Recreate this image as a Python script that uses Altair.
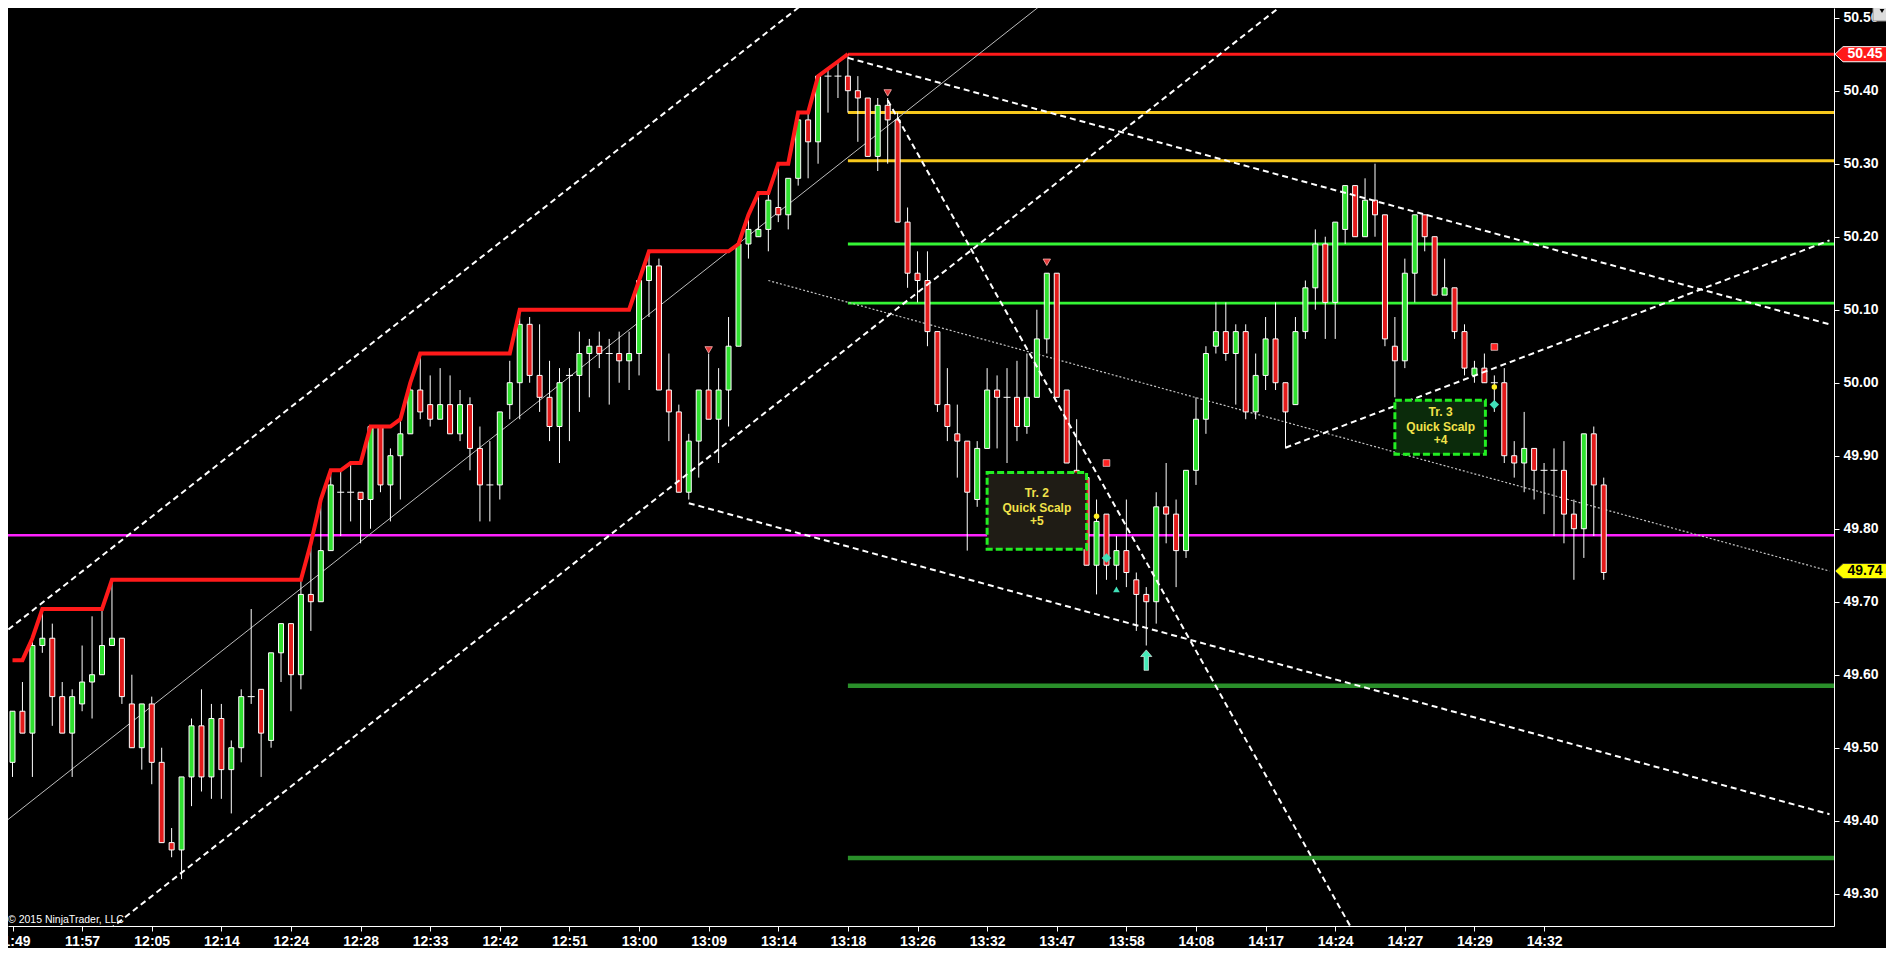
import altair as alt
import pandas as pd

# ---------------- data ----------------
time_labels = ['11:49', '11:57', '12:05', '12:14', '12:24', '12:28', '12:33', '12:42',
               '12:51', '13:00', '13:09', '13:14', '13:18', '13:26', '13:32', '13:47',
               '13:58', '14:08', '14:17', '14:24', '14:27', '14:29', '14:32']
label_step = 7
price_ticks = [49.3, 49.4, 49.5, 49.6, 49.7, 49.8, 49.9, 50.0, 50.1, 50.2, 50.3, 50.4, 50.5]

opens = [49.48, 49.55, 49.52, 49.64, 49.65, 49.57, 49.52, 49.56, 49.59, 49.60,
         49.64, 49.65, 49.56, 49.50, 49.56, 49.48, 49.37, 49.36, 49.46, 49.53,
         49.46, 49.54, 49.47, 49.50, 49.57, 49.58, 49.51, 49.63, 49.67, 49.60,
         49.71, 49.70, 49.77, 49.85, 49.85, 49.85, 49.84, 49.94, 49.86, 49.90,
         49.93, 49.99, 49.97, 49.95, 49.97, 49.93, 49.97, 49.91, 49.86, 49.86,
         49.97, 50.00, 50.08, 50.01, 49.98, 49.94, 50.01, 50.01, 50.04, 50.05,
         50.04, 50.04, 50.03, 50.04, 50.14, 50.16, 49.99, 49.96, 49.85, 49.92,
         49.99, 49.95, 49.99, 50.05, 50.19, 50.20, 50.21, 50.24, 50.23, 50.28,
         50.36, 50.33, 50.42, 50.42, 50.42, 50.40, 50.39, 50.31, 50.38, 50.36,
         50.22, 50.15, 50.14, 50.07, 49.97, 49.93, 49.92, 49.84, 49.91, 49.99,
         49.98, 49.98, 49.94, 49.98, 50.06, 50.15, 49.99, 49.88, 49.87, 49.75,
         49.82, 49.75, 49.77, 49.73, 49.71, 49.70, 49.83, 49.82, 49.77, 49.88,
         49.95, 50.05, 50.07, 50.04, 50.07, 49.96, 50.01, 50.06, 50.00, 49.97,
         50.07, 50.13, 50.19, 50.11, 50.21, 50.27, 50.20, 50.25, 50.23, 50.05,
         50.03, 50.15, 50.23, 50.20, 50.12, 50.13, 50.07, 50.01, 50.02, 50.00,
         50.00, 49.90, 49.89, 49.91, 49.88, 49.88, 49.88, 49.82, 49.80, 49.93,
         49.86]
highs = [49.55, 49.59, 49.65, 49.69, 49.67, 49.59, 49.58, 49.64, 49.68, 49.69,
         49.73, 49.65, 49.60, 49.56, 49.57, 49.50, 49.39, 49.46, 49.54, 49.58,
         49.56, 49.56, 49.51, 49.58, 49.69, 49.58, 49.63, 49.67, 49.67, 49.73,
         49.78, 49.84, 49.88, 49.88, 49.89, 49.85, 49.94, 49.94, 49.91, 49.95,
         50.00, 50.04, 50.01, 50.02, 50.01, 49.99, 49.98, 49.94, 49.92, 49.96,
         50.03, 50.10, 50.09, 50.08, 50.03, 50.02, 50.02, 50.07, 50.06, 50.07,
         50.06, 50.07, 50.07, 50.14, 50.18, 50.17, 50.04, 49.97, 49.93, 49.99,
         50.04, 50.02, 50.09, 50.19, 50.23, 50.26, 50.26, 50.30, 50.28, 50.37,
         50.37, 50.42, 50.43, 50.44, 50.45, 50.42, 50.39, 50.39, 50.39, 50.37,
         50.24, 50.18, 50.18, 50.07, 50.02, 49.97, 49.92, 49.92, 50.02, 50.01,
         50.02, 50.03, 50.04, 50.10, 50.15, 50.15, 49.99, 49.95, 49.87, 49.84,
         49.82, 49.79, 49.84, 49.74, 49.72, 49.85, 49.89, 49.84, 49.88, 49.98,
         50.05, 50.11, 50.11, 50.08, 50.08, 50.04, 50.09, 50.11, 50.00, 50.09,
         50.14, 50.21, 50.20, 50.22, 50.27, 50.27, 50.28, 50.30, 50.23, 50.09,
         50.17, 50.23, 50.23, 50.20, 50.17, 50.13, 50.08, 50.03, 50.04, 50.01,
         50.02, 49.92, 49.96, 49.91, 49.89, 49.91, 49.92, 49.84, 49.93, 49.94,
         49.87]
lows = [49.46, 49.52, 49.46, 49.63, 49.53, 49.52, 49.46, 49.55, 49.54, 49.60,
        49.64, 49.56, 49.50, 49.47, 49.45, 49.37, 49.35, 49.32, 49.42, 49.44,
        49.43, 49.43, 49.41, 49.48, 49.56, 49.46, 49.50, 49.59, 49.55, 49.58,
        49.66, 49.70, 49.77, 49.79, 49.81, 49.78, 49.80, 49.85, 49.81, 49.84,
        49.93, 49.95, 49.94, 49.95, 49.93, 49.92, 49.88, 49.81, 49.81, 49.84,
        49.95, 49.95, 50.00, 49.96, 49.92, 49.89, 49.92, 49.96, 49.98, 50.02,
        49.97, 50.00, 49.99, 50.01, 50.09, 49.99, 49.92, 49.85, 49.84, 49.87,
        49.95, 49.89, 49.94, 50.05, 50.17, 50.20, 50.18, 50.22, 50.21, 50.27,
        50.28, 50.30, 50.37, 50.39, 50.37, 50.33, 50.31, 50.29, 50.30, 50.22,
        50.13, 50.11, 50.05, 49.96, 49.92, 49.87, 49.77, 49.83, 49.91, 49.91,
        49.89, 49.92, 49.93, 49.98, 50.04, 49.98, 49.89, 49.87, 49.75, 49.71,
        49.73, 49.73, 49.72, 49.66, 49.64, 49.67, 49.78, 49.72, 49.76, 49.86,
        49.93, 50.04, 50.03, 49.97, 49.95, 49.95, 49.99, 49.99, 49.91, 49.97,
        50.06, 50.10, 50.06, 50.06, 50.19, 50.20, 50.20, 50.20, 50.05, 49.98,
        50.02, 50.11, 50.18, 50.12, 50.12, 50.06, 50.01, 50.00, 50.00, 49.96,
        49.89, 49.87, 49.85, 49.84, 49.82, 49.79, 49.78, 49.73, 49.76, 49.79,
        49.73]
closes = [49.55, 49.52, 49.64, 49.65, 49.57, 49.52, 49.57, 49.59, 49.60, 49.64,
          49.65, 49.57, 49.50, 49.56, 49.48, 49.37, 49.36, 49.46, 49.53, 49.46,
          49.54, 49.47, 49.50, 49.57, 49.57, 49.52, 49.63, 49.67, 49.60, 49.71,
          49.70, 49.77, 49.86, 49.85, 49.85, 49.84, 49.94, 49.86, 49.90, 49.93,
          49.99, 49.96, 49.95, 49.97, 49.93, 49.97, 49.91, 49.86, 49.86, 49.96,
          50.00, 50.08, 50.01, 49.98, 49.94, 50.00, 50.01, 50.04, 50.05, 50.04,
          50.04, 50.03, 50.04, 50.14, 50.16, 49.99, 49.96, 49.85, 49.92, 49.99,
          49.95, 49.99, 50.05, 50.19, 50.21, 50.21, 50.25, 50.23, 50.28, 50.36,
          50.33, 50.42, 50.42, 50.42, 50.40, 50.39, 50.31, 50.38, 50.36, 50.22,
          50.15, 50.14, 50.07, 49.97, 49.94, 49.92, 49.85, 49.91, 49.99, 49.98,
          49.98, 49.94, 49.98, 50.06, 50.15, 49.98, 49.89, 49.87, 49.75, 49.81,
          49.75, 49.77, 49.74, 49.71, 49.70, 49.83, 49.82, 49.77, 49.88, 49.95,
          50.04, 50.07, 50.04, 50.07, 49.96, 50.01, 50.06, 50.00, 49.96, 50.07,
          50.13, 50.19, 50.11, 50.22, 50.27, 50.20, 50.25, 50.23, 50.06, 50.03,
          50.15, 50.23, 50.20, 50.12, 50.13, 50.07, 50.02, 50.02, 50.00, 50.00,
          49.90, 49.89, 49.91, 49.88, 49.88, 49.88, 49.82, 49.80, 49.93, 49.86,
          49.74]

# trailing highest-high line (seeded with the high carried in from earlier bars)
step_seed = 49.62
step_last_bar = 84

# horizontal levels
level_prices = [50.45, 50.37, 50.304, 50.19, 50.109, 49.585, 49.349, 49.791]
level_from = [84, 84, 84, 84, 84, 84, 84, -2]

# drawn trend lines (bar index, price)
dashed_x1 = [-2, 5, 84, 88, 68, 128]
dashed_p1 = [49.645, 49.200, 50.445, 50.387, 49.835, 49.911]
dashed_x2 = [85, 135, 182.7, 140, 182.7, 182.7]
dashed_p2 = [50.578, 50.596, 50.080, 49.122, 49.409, 50.195]
mid_x = [-2, 110]
mid_p = [49.385, 50.588]
dotted_x = [76, 182.7]
dotted_p = [50.140, 49.742]

# signal markers
tri_down_x = [70, 88, 104]
tri_down_p = [50.045, 50.397, 50.165]
sq_x = [110, 149]
sq_p = [49.890, 50.049]
dot_x = [109, 149]
dot_p = [49.817, 49.994]
diam_x = [110, 149]
diam_p = [49.760, 49.970]
tri_up_x = [111]
tri_up_p = [49.717]
arrow_x = [114]
arrow_p = [49.620]

# trade boxes
box_x1 = [98, 139]
box_x2 = [108, 148.1]
box_p1 = [49.877, 49.976]
box_p2 = [49.772, 49.902]
box_text = [["Tr. 2", "Quick Scalp", "+5"], ["Tr. 3", "Quick Scalp", "+4"]]
box_text_x = [103, 143.6]
box_text_p = [[49.849, 49.829, 49.810], [49.960, 49.940, 49.921]]

tag_prices = [50.45, 49.742]
tag_texts = ["50.45", "49.74"]

# ---------------- styling / scales ----------------
UP = '#2fe02f'
DN = '#e31b1b'
XMIN, XMAX = 0.05, 182.65
YMIN, YMAX = 49.2558, 50.5133
W, H = 1826, 918
FONT = 'Liberation Sans'

xscale = alt.Scale(domain=[XMIN, XMAX], nice=False, zero=False)
yscale = alt.Scale(domain=[YMIN, YMAX], nice=False, zero=False)
label_expr = "[" + ",".join("'%s'" % t for t in time_labels) + "][round(datum.value/%d)]" % label_step
xaxis = alt.Axis(values=[k * label_step for k in range(len(time_labels))], labelExpr=label_expr,
                 tickSize=5, tickColor='white', domainColor='white', labelColor='white',
                 labelFont=FONT, labelFontSize=14, labelFontWeight='bold', labelPadding=3,
                 labelFlush=False, labelOverlap=False, grid=False, title=None, domainWidth=1)
yaxis = alt.Axis(orient='right', values=price_ticks, format='.2f',
                 tickSize=5, tickColor='white', domainColor='white', labelColor='white',
                 labelFont=FONT, labelFontSize=14, labelFontWeight='bold', labelPadding=4,
                 labelOverlap=False, labelFlush=False, grid=False, title=None, domainWidth=1)


def X(f):
    return alt.X(f, type='quantitative', scale=xscale, axis=xaxis, title=None)


def Y(f):
    return alt.Y(f, type='quantitative', scale=yscale, axis=yaxis, title=None)


# ---------------- frames ----------------
n = len(opens)
cd = pd.DataFrame({'i': list(range(n)), 'o': opens, 'h': highs, 'l': lows, 'c': closes})
cd['col'] = [UP if c > o else DN for o, c in zip(opens, closes)]
bodies = cd[cd.o != cd.c]
dojis = cd[cd.o == cd.c].copy()
dojis['x1'] = dojis.i - 0.35
dojis['x2'] = dojis.i + 0.35

step_vals = pd.Series([max(step_seed, h) for h in highs[:step_last_bar + 1]]).cummax()
step = pd.DataFrame({'i': list(range(step_last_bar + 1)), 'p': step_vals})

lv = pd.DataFrame({'x1': level_from, 'x2': [XMAX + 1] * len(level_prices), 'p': level_prices,
                   'col': ['#ff1a1a', '#f7c81c', '#f7c81c', '#35f535', '#35f535', '#2a8f2a', '#2a8f2a', '#ff22ff'],
                   'w': [3, 3, 3, 2.8, 2.8, 4.5, 4.5, 2.5]})

rows = []
for k in range(len(dashed_x1)):
    rows.append({'id': k, 'x': dashed_x1[k], 'p': dashed_p1[k]})
    rows.append({'id': k, 'x': dashed_x2[k], 'p': dashed_p2[k]})
dashed = pd.DataFrame(rows)
mid = pd.DataFrame({'x': mid_x, 'p': mid_p})
dotted = pd.DataFrame({'x': dotted_x, 'p': dotted_p})

boxes = pd.DataFrame({'x1': box_x1, 'x2': box_x2, 'p1': box_p1, 'p2': box_p2,
                      'fill': ['#1f1c15', '#0b2b0b']})
trows = []
for k in range(len(box_text)):
    for line, p in zip(box_text[k], box_text_p[k]):
        trows.append({'x': box_text_x[k], 'p': p, 't': line})
btext = pd.DataFrame(trows)

one = pd.DataFrame({'a': [0]})

# ---------------- layers ----------------
levels = alt.Chart(lv).mark_rule(clip=True).encode(
    x=X('x1'), x2='x2', y=Y('p'),
    color=alt.Color('col:N', scale=None), size=alt.Size('w:Q', scale=None))

wicks = alt.Chart(cd).mark_rule(color='white', strokeWidth=1).encode(x=X('i'), y=Y('l'), y2='h')
body = alt.Chart(bodies).mark_bar(size=5, stroke='white', strokeWidth=1).encode(
    x=X('i'), y=Y('o'), y2='c', color=alt.Color('col:N', scale=None))
doji = alt.Chart(dojis).mark_rule(color='white', strokeWidth=1).encode(x=X('x1'), x2='x2', y=Y('o'))

mid_l = alt.Chart(mid).mark_line(clip=True, color='#bdbdbd', strokeWidth=1).encode(x=X('x'), y=Y('p'))
dot_l = alt.Chart(dotted).mark_line(clip=True, color='#c4c4c4', strokeWidth=1.2, strokeDash=[2, 2]).encode(
    x=X('x'), y=Y('p'))
dash_l = alt.Chart(dashed).mark_line(clip=True, color='white', strokeWidth=2, strokeDash=[6, 4]).encode(
    x=X('x'), y=Y('p'), detail='id:N')

step_l = alt.Chart(step).mark_line(color='#ff1a1a', strokeWidth=4, clip=True).encode(x=X('i'), y=Y('p'))


def pts(xs, ps, **kw):
    return alt.Chart(pd.DataFrame({'x': xs, 'p': ps})).mark_point(filled=True, opacity=1, **kw).encode(
        x=X('x'), y=Y('p'))


tri_d = pts(tri_down_x, tri_down_p, shape='triangle-down', size=55, fill='#e33a3a', stroke='#ffb0b0', strokeWidth=0.8)
squares = pts(sq_x, sq_p, shape='square', size=45, fill='#ff2222', stroke='white', strokeWidth=0.6)
ydots = pts(dot_x, dot_p, shape='circle', size=30, fill='#ffee22')
diams = pts(diam_x, diam_p, shape='diamond', size=90, fill='#40e0b8')
tri_u = pts(tri_up_x, tri_up_p, shape='triangle-up', size=45, fill='#40e0b8')
arrow = pts(arrow_x, arrow_p,
            shape='M0,-1 L0.55,-0.35 L0.22,-0.35 L0.22,1 L-0.22,1 L-0.22,-0.35 L-0.55,-0.35 Z',
            size=420, fill='#46eab8', stroke='white', strokeWidth=0.6)

box_r = alt.Chart(boxes).mark_rect(stroke='#22ee22', strokeWidth=3, strokeDash=[7, 3]).encode(
    x=X('x1'), x2='x2', y=Y('p1'), y2='p2', color=alt.Color('fill:N', scale=None))
box_t = alt.Chart(btext).mark_text(color='#f2e24a', font=FONT, fontSize=12, fontWeight='bold',
                                   align='center', baseline='middle').encode(x=X('x'), y=Y('p'), text='t:N')

tag_shape = 'M-1.45,0 L-1,-0.42 L1.45,-0.42 L1.45,0.42 L-1,0.42 Z'
tags = pd.DataFrame({'p': tag_prices, 't': tag_texts,
                     'fill': ['#ff1a1a', '#ffff00'], 'tc': ['white', 'black'], 'st': ['white', '#333333']})
tag_bg = alt.Chart(tags).mark_point(shape=tag_shape, size=1290, filled=True, opacity=1, strokeWidth=1).encode(
    x=alt.value(W + 27), y=Y('p'), fill=alt.Fill('fill:N', scale=None), stroke=alt.Stroke('st:N', scale=None))
tag_tx = alt.Chart(tags).mark_text(font=FONT, fontSize=14, fontWeight='bold', align='center',
                                   baseline='middle').encode(
    x=alt.value(W + 31), y=Y('p'), text='t:N', color=alt.Color('tc:N', scale=None))

btn = alt.Chart(one).mark_rect(fill='#dcdcdc', stroke='#8a8a8a', strokeWidth=1).encode(
    x=alt.value(W + 39), x2=alt.value(W + 64), y=alt.value(-6), y2=alt.value(13))
btn_tri = alt.Chart(one).mark_point(shape='triangle-down', filled=True, size=22, fill='black', opacity=1).encode(
    x=alt.value(W + 48), y=alt.value(3))

copy_t = alt.Chart(one).mark_text(text='© 2015 NinjaTrader, LLC', color='white', font=FONT, fontSize=10.5,
                                  align='left', baseline='alphabetic').encode(x=alt.value(0), y=alt.value(915))

chart = alt.layer(
    levels, mid_l, dot_l, wicks, body, doji, dash_l, step_l,
    tri_d, squares, ydots, diams, tri_u, arrow, box_r, box_t,
    tag_bg, tag_tx, btn, btn_tri, copy_t
).properties(
    width=W, height=H,
    autosize=alt.AutoSizeParams(type='none'),
    padding={'left': 0, 'top': 0, 'right': 52, 'bottom': 22}
).configure(background='black').configure_view(stroke=None)

chart.save("out.html", embed_options={"renderer": "svg", "actions": False})
